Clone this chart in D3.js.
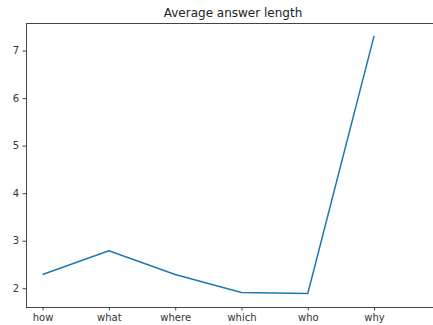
<!DOCTYPE html>
<html>
<head>
<meta charset="utf-8">
<script src="https://cdn.jsdelivr.net/npm/d3@7"></script>
<style>
  html, body { margin: 0; padding: 0; background: #fff; }
  svg { display: block; }
  .tick text { font-family: "DejaVu Sans", sans-serif; font-size: 10px; fill: #333; }
</style>
</head>
<body>
<svg id="chart" width="433" height="325"></svg>
<script>
// Question words and the average answer length for each
const categories = ["how", "what", "where", "which", "who", "why"];
const avgLength = [2.29, 2.79, 2.29, 1.91, 1.89, 7.31];
const yTicks = [2, 3, 4, 5, 6, 7];

const svg = d3.select("#chart");
const plot = { left: 26, right: 440, top: 23, bottom: 307 };

const x = d3.scaleLinear().domain([-0.25, 5.25]).range([plot.left, plot.left + 66.3 * 5.5]);
const y = d3.scaleLinear().domain([1.606, 7.58]).range([plot.bottom, plot.top]);

// Title
svg.append("text")
  .attr("x", (plot.left + plot.right) / 2)
  .attr("y", 17)
  .attr("text-anchor", "middle")
  .attr("font-family", "DejaVu Sans, sans-serif")
  .attr("font-size", 12)
  .attr("fill", "#222")
  .text("Average answer length");

// Data line
const line = d3.line()
  .x((d, i) => x(i))
  .y(d => y(d));

svg.append("path")
  .datum(avgLength)
  .attr("fill", "none")
  .attr("stroke", "#1f77b4")
  .attr("stroke-width", 1.5)
  .attr("stroke-linejoin", "round")
  .attr("d", line);

// Axes
const xAxis = d3.axisBottom(x)
  .tickValues(d3.range(categories.length))
  .tickFormat(i => categories[i])
  .tickSize(3.5)
  .tickPadding(3.5);

const gx = svg.append("g")
  .attr("transform", `translate(0,${plot.bottom})`)
  .call(xAxis);
gx.select(".domain").remove();
gx.selectAll(".tick line").attr("stroke", "#444");

const yAxis = d3.axisLeft(y)
  .tickValues(yTicks)
  .tickFormat(d3.format("d"))
  .tickSize(3.5)
  .tickPadding(3.5);

const gy = svg.append("g")
  .attr("transform", `translate(${plot.left},0)`)
  .call(yAxis);
gy.select(".domain").remove();
gy.selectAll(".tick line").attr("stroke", "#444");

// Frame around the plotting area
svg.append("rect")
  .attr("x", plot.left + 0.5)
  .attr("y", plot.top + 0.5)
  .attr("width", plot.right - plot.left)
  .attr("height", plot.bottom - plot.top)
  .attr("fill", "none")
  .attr("stroke", "#444")
  .attr("stroke-width", 1);
</script>
</body>
</html>
